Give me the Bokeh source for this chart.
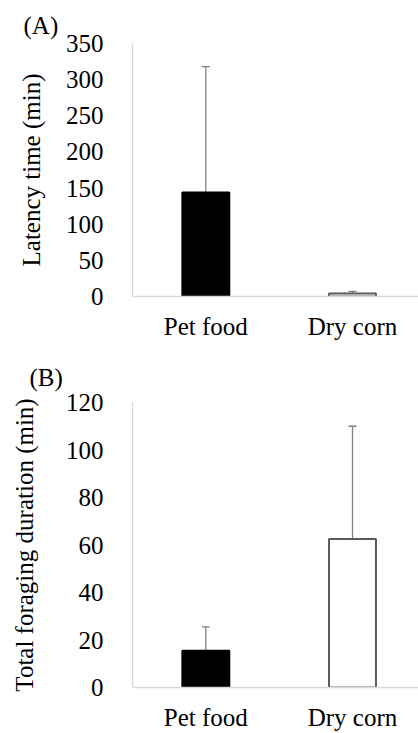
from bokeh.plotting import figure
from bokeh.models import Range1d, FixedTicker, Whisker, TeeHead, ColumnDataSource
from bokeh.layouts import column
from bokeh.embed import file_html
from bokeh.resources import INLINE

categories = ["Pet food", "Dry corn"]
latency_mean = [144, 4]
latency_err = [174, 3]
foraging_mean = [15.5, 62.5]
foraging_err = [10, 47.5]
latency_ticks = [0, 50, 100, 150, 200, 250, 300, 350]
foraging_ticks = [0, 20, 40, 60, 80, 100, 120]

FONT = "Liberation Serif"
FS = "25px"
fills = ["black", "white"]
edges = ["black", "#595959"]


def make_panel(tag, ylabel, means, errs, yticks, width, height, left, top, bottom,
               tag_x, tag_standoff, label_standoff):
    xs = [i + 0.5 for i in range(len(categories))]
    p = figure(width=width, height=height, output_backend="svg", toolbar_location=None,
               x_range=Range1d(0, 1.95), y_range=Range1d(yticks[0], yticks[-1]),
               min_border_left=left, min_border_top=top, min_border_bottom=bottom,
               min_border_right=0)
    p.outline_line_color = None
    p.grid.visible = False
    p.background_fill_color = "white"
    p.border_fill_color = "white"
    src = ColumnDataSource(dict(x=xs, top=means, lower=means,
                                upper=[m + e for m, e in zip(means, errs)],
                                fill=fills, edge=edges))
    p.add_layout(Whisker(source=src, base="x", lower="lower", upper="upper",
                         line_color="#808080", line_width=1.3,
                         lower_head=None,
                         upper_head=TeeHead(size=8, line_color="#808080", line_width=1.3)))
    p.vbar(x="x", top="top", bottom=0, width=0.32, source=src,
           fill_color="fill", line_color="edge", line_width=2)

    for ax in (p.xaxis[0], p.yaxis[0]):
        ax.axis_line_color = "#d9d9d9"
        ax.axis_line_width = 1.3
        ax.major_tick_line_color = None
        ax.minor_tick_line_color = None
        ax.major_tick_in = 0
        ax.major_tick_out = 0
        ax.major_label_text_font = FONT
        ax.major_label_text_font_size = FS
        ax.major_label_text_color = "black"
    p.xaxis.ticker = FixedTicker(ticks=xs)
    p.xaxis.major_label_overrides = {x: c for x, c in zip(xs, categories)}
    p.xaxis.major_label_standoff = 16
    p.yaxis.ticker = FixedTicker(ticks=yticks)
    p.yaxis.major_label_standoff = 29
    p.yaxis.axis_label = ylabel
    p.yaxis.axis_label_text_font = FONT
    p.yaxis.axis_label_text_font_size = FS
    p.yaxis.axis_label_text_font_style = "normal"
    p.yaxis.axis_label_text_color = "black"
    p.yaxis.axis_label_standoff = label_standoff
    p.title.text = tag
    p.title.text_font = FONT
    p.title.text_font_size = FS
    p.title.text_font_style = "normal"
    p.title.text_color = "black"
    p.title.align = "left"
    p.title.offset = tag_x
    p.title.standoff = tag_standoff
    return p


pa = make_panel("(A)", "Latency time (min)", latency_mean, latency_err, latency_ticks,
                418, 350, 132, 43, 54, -109, 10, 18)
pb = make_panel("(B)", "Total foraging duration (min)", foraging_mean, foraging_err, foraging_ticks,
                418, 383, 126, 52, 43, -103, 23, 25)

layout = column(pa, pb, spacing=0)
open("out.html", "w").write(file_html(layout, INLINE))
